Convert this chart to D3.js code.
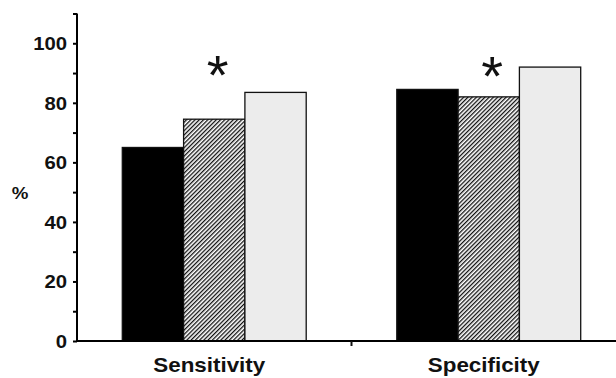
<!DOCTYPE html>
<html>
<head>
<meta charset="utf-8">
<script src="https://cdn.jsdelivr.net/npm/d3@7/dist/d3.min.js"></script>
<style>
  html, body { margin: 0; padding: 0; background: #fff; }
  svg { display: block; }
  text { font-family: "Liberation Sans", Arial, sans-serif; }
</style>
</head>
<body>
<svg id="chart" width="616" height="378"></svg>
<script>
const categories = ["Sensitivity", "Specificity"];
const series = ["Group A", "Group B", "Group C"];
const valuesA = [65, 84.5];
const valuesB = [74.5, 82];
const valuesC = [83.5, 92];
const significant = [true, true];
const yTicks = [0, 20, 40, 60, 80, 100];
const yMinorTicks = [0, 10, 20, 30, 40, 50, 60, 70, 80, 90, 100, 110];
const yLabel = "%";

(function () {
const svg = d3.select("#chart");
const defs = svg.append("defs");
const pat = defs.append("pattern")
  .attr("id", "hatch").attr("patternUnits", "userSpaceOnUse")
  .attr("width", 3).attr("height", 3)
  .attr("patternTransform", "rotate(45)");
pat.append("rect").attr("width", 3).attr("height", 3).attr("fill", "#fff");
pat.append("rect").attr("x", 0).attr("width", 1.3).attr("height", 3).attr("fill", "#111");

const mLeft = 77, mRight = 626, mBottom = 341, mTop = 13.5;
const y = d3.scaleLinear().domain([0, 110]).range([mBottom, mTop]);
const x0 = d3.scaleBand().domain(categories).range([mLeft, mRight]).paddingInner(0.33).paddingOuter(0.165);
const x1 = d3.scaleBand().domain(series).range([0, x0.bandwidth()]);

const fills = ["#000", "url(#hatch)", "#ececec"];
const data = categories.map((c, i) => ({
  cat: c,
  vals: [valuesA[i], valuesB[i], valuesC[i]]
}));

const g = svg.append("g");
data.forEach(d => {
  d.vals.forEach((v, j) => {
    g.append("rect")
      .attr("x", x0(d.cat) + x1(series[j]))
      .attr("y", y(v))
      .attr("width", x1.bandwidth())
      .attr("height", y(0) - y(v))
      .attr("fill", fills[j])
      .attr("stroke", "#111")
      .attr("stroke-width", 1.3);
  });
});

// asterisks
data.forEach((d, i) => {
  if (!significant[i]) return;
  svg.append("text")
    .attr("x", x0(d.cat) + x1(series[1]) + x1.bandwidth() / 2 + 3.5)
    .attr("y", 94 + i)
    .attr("text-anchor", "middle")
    .attr("font-family", "DejaVu Sans")
    .attr("font-size", 56)
    .attr("fill", "#111")
    .text("*");
});

// y axis
const yAxisMinor = d3.axisLeft(y).tickValues(yMinorTicks).tickSize(4).tickFormat("");
svg.append("g").attr("transform", `translate(${mLeft},0)`).call(yAxisMinor)
  .call(s => s.select(".domain").attr("stroke-width", 2).attr("d", `M0,${mTop}V${mBottom}`))
  .call(s => s.selectAll(".tick line").attr("stroke-width", 2));

const yAxis = d3.axisLeft(y).tickValues(yTicks).tickSize(0).tickPadding(10);
svg.append("g").attr("transform", `translate(${mLeft},0)`).call(yAxis)
  .call(s => s.select(".domain").remove())
  .call(s => s.selectAll(".tick text")
    .attr("font-size", 17.5).attr("font-weight", "bold").attr("fill", "#111")
    .attr("font-family", "Liberation Sans, Arial, sans-serif")
    .attr("dy", "0.36em")
    .attr("x", null)
    .attr("transform", "translate(-10,0) scale(1.16,1)"));

// x axis
const xAxis = d3.axisBottom(x0).tickValues([]).tickSize(0);
svg.append("g").attr("transform", `translate(0,${mBottom})`).call(xAxis)
  .call(s => s.select(".domain").attr("stroke-width", 2).attr("d", `M${mLeft},0H${mRight}`));
const mid = (x0(categories[0]) + x0.bandwidth() + x0(categories[1])) / 2;
svg.append("line").attr("x1", mid).attr("x2", mid).attr("y1", mBottom).attr("y2", mBottom + 5)
  .attr("stroke", "#111").attr("stroke-width", 2);

// category labels
categories.forEach(c => {
  const cx = x0(c) + x0.bandwidth() / 2 - 5;
  svg.append("text")
    .attr("transform", `translate(${cx},372) scale(1.12,1)`)
    .attr("text-anchor", "middle")
    .attr("font-size", 20).attr("font-weight", "bold").attr("fill", "#111")
    .text(c);
});

// y label
svg.append("text")
  .attr("transform", "translate(20,199) scale(1.1,1)")
  .attr("text-anchor", "middle")
  .attr("font-size", 17).attr("font-weight", "bold").attr("fill", "#111")
  .text(yLabel);
})();
</script>
</body>
</html>
